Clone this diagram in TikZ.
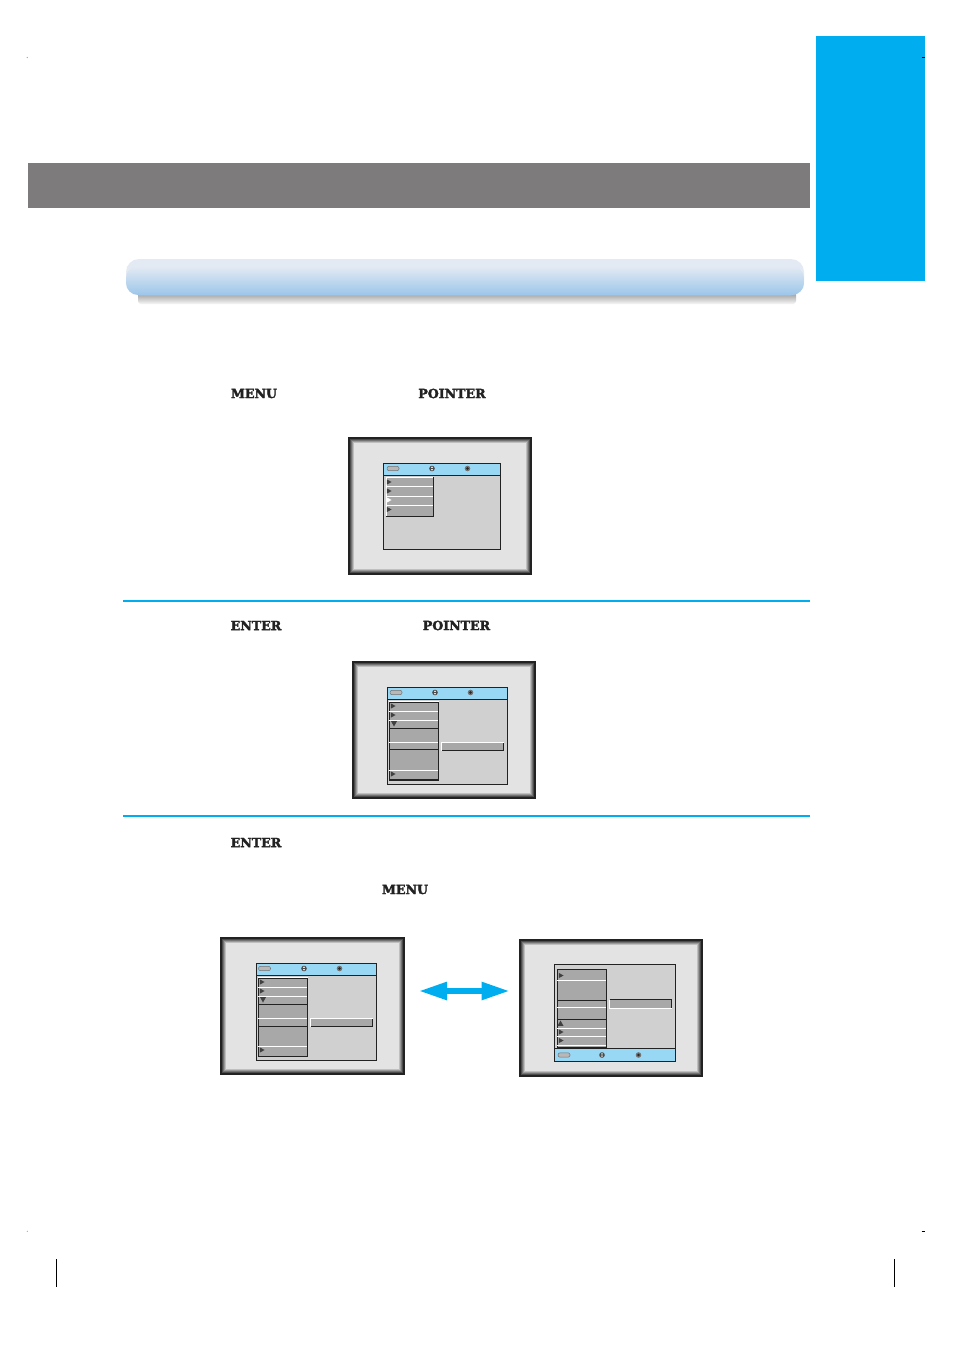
\documentclass[tikz,border=0pt]{standalone}
\usepackage{fontspec}
\newfontfamily\slabfont{DejaVu Serif Bold}[FakeBold=2.4]
\usetikzlibrary{arrows.meta}
\definecolor{cyantab}{HTML}{00AEEF}
\definecolor{bandgray}{HTML}{7D7B7C}
\definecolor{headblue}{HTML}{99D8F5}
\definecolor{panelgray}{HTML}{D0D0D0}
\definecolor{menugray}{HTML}{A8A8A8}
\definecolor{matgray}{HTML}{E3E3E3}
\definecolor{darkline}{HTML}{222222}
\definecolor{bartop}{HTML}{E4EAF4}
\definecolor{barbottom}{HTML}{9CC6E9}
\tikzset{
  keyword/.style={font=\slabfont\fontsize{12.6}{13}\selectfont, text=darkline, inner sep=0pt},
  rulecyan/.style={draw=cyantab, line width=1.4pt},
  panelbox/.style={fill=panelgray, draw=darkline, line width=1pt},
  headbox/.style={fill=headblue, draw=darkline, line width=1pt},
  menubox/.style={fill=menugray, draw=darkline, line width=1pt},
  sepwhite/.style={draw=white, line width=.9pt},
  sepdark/.style={draw=darkline, line width=.9pt},
  headicon/.style={fill=black!28, draw=black!55, line width=.5pt, rounded corners=2pt},
  cropmark/.style={draw=black, line width=1pt},
  dblarrow/.style={draw=cyantab, line width=5.6pt, {Triangle[length=28pt,width=17pt]}-{Triangle[length=28pt,width=17pt]}}
}
% frame of a screen: left, top, right, bottom
\newcommand{\screenframe}[4]{
  \fill[darkline] (#1-.7,#2-.7) rectangle (#3+.5,#4+.5);
  \foreach \d/\g in {1.2/70,2.2/55,3.2/40,4.2/25}
    \fill[black!\g!white] (#1+\d,#2+\d) rectangle (#3-\d,#4-\d);
  \fill[matgray] (#1+5.2,#2+5.2) rectangle (#3-5.2,#4-5.2);
}
% the three marks of a header bar: y, x of oval, x of dot one, x of dot two
\newcommand{\headmarks}[4]{
  \path[headicon] (#2-6,#1-2.2) rectangle (#2+6,#1+2.2);
  \fill[black!70] (#3,#1) circle (2.8);
  \fill[white] (#3-.9,#1-.7) -- (#3+.9,#1-.7) -- (#3,#1-2.2) -- cycle;
  \fill[white] (#3-.9,#1+.7) -- (#3+.9,#1+.7) -- (#3,#1+2.2) -- cycle;
  \fill[black!55] (#4,#1) circle (2.8);
  \fill[black!85] (#4,#1) circle (1.3);
}
\newcommand{\arrowright}[3][black!75]{\fill[#1] (#2-2.2,#3-2.6) -- (#2+2.6,#3) -- (#2-2.2,#3+2.6) -- cycle;}
\newcommand{\arrowdown}[2]{\fill[black!75] (#1-3,#2-2.4) -- (#1+3,#2-2.4) -- (#1,#2+3) -- cycle;}
\newcommand{\arrowup}[2]{\fill[black!75] (#1-3,#2+2.4) -- (#1+3,#2+2.4) -- (#1,#2-3) -- cycle;}
\begin{document}
\begin{tikzpicture}[x=1pt,y=-1pt]
\useasboundingbox (0,0) rectangle (954,1351);
\fill[white] (0,0) rectangle (954,1351);

% page heading
\fill[bandgray] (28,163) rectangle (810,208);
\fill[cyantab] (816,36) rectangle (925,281);
\shade[top color=black!42, middle color=black!36, bottom color=black!3, rounded corners=3pt] (138,292) rectangle (796,304);
\fill[bartop, rounded corners=13pt] (126,259) rectangle (804,295);
\shade[rounded corners=12pt, top color=bartop, bottom color=barbottom] (126,266) rectangle (804,295);

% printers marks
\draw[cropmark] (921.5,57.5) -- (925,57.5);
\draw[cropmark] (921.5,1231.5) -- (925,1231.5);
\draw[cropmark] (56.5,1259) -- (56.5,1287);
\draw[cropmark] (894.5,1259) -- (894.5,1287);
\fill[black!40] (27.3,57.5) circle (.6);
\fill[black!40] (27.3,1231.3) circle (.6);

% step one
\node[keyword] (menuA) at (254,393.5) {MENU};
\node[keyword] (pointerA) at (452,393.5) {POINTER};
\screenframe{348.5}{437.5}{531.5}{574.5}
\draw[panelbox] (383.5,463.5) rectangle (500.5,549.5);
\draw[headbox] (383.5,463.5) rectangle (500.5,475.5);
\headmarks{468.5}{393}{432}{467.5}
\draw[menubox] (386,477.5) rectangle (433.5,516.5);
\draw[sepwhite] (386,477.5) -- (433,477.5);
\draw[sepwhite] (386,477.5) -- (386,516);
\foreach \y in {486.5,496,505.5} \draw[sepwhite] (386,\y) -- (433,\y);
\arrowright{389}{482}
\arrowright{389}{491}
\arrowright[white]{389}{500}
\arrowright{389}{509.5}

\draw[rulecyan] (123,601) -- (810,601);

% step two
\node[keyword] (enterA) at (256,625.5) {ENTER};
\node[keyword] (pointerB) at (456.5,625.5) {POINTER};
\screenframe{352.5}{661.5}{535.5}{798.5}
\draw[panelbox] (387.5,687.5) rectangle (507.5,784.5);
\draw[headbox] (387.5,687.5) rectangle (507.5,699.5);
\headmarks{692.5}{396}{435}{470.5}
\draw[menubox] (389.5,702.5) rectangle (438.5,780.5);
\draw[sepwhite] (389,701.5) -- (438.5,701.5);
\foreach \y in {711.5,720.5,742.5,770.5} \draw[sepwhite] (389,\y) -- (438,\y);
\foreach \y in {728.5,749.5} \draw[sepdark] (389,\y) -- (438,\y);
\draw[darkline, line width=1.6pt] (389,780) -- (438.5,780);
\arrowright{393}{706}
\arrowright{393}{715}
\arrowdown{394}{723.5}
\arrowright{393}{774}
\fill[menugray] (441.5,742.5) rectangle (503.5,750.5);
\draw[sepwhite] (441.5,750.5) -- (441.5,742.5) -- (503.5,742.5);
\draw[sepdark] (441.5,750.5) -- (503.5,750.5) -- (503.5,742.5);

\draw[rulecyan] (123,816) -- (810,816);

% step three
\node[keyword] (enterB) at (256,842.5) {ENTER};
\node[keyword] (menuB) at (405,889.5) {MENU};
\screenframe{220.5}{937.5}{404.5}{1074.5}
\draw[panelbox] (256.5,963.5) rectangle (376.5,1060.5);
\draw[headbox] (256.5,963.5) rectangle (376.5,975.5);
\headmarks{968.5}{264.5}{304}{339.5}
\draw[menubox] (258.5,978.5) rectangle (307.5,1056.5);
\draw[sepwhite] (258,977.5) -- (307.5,977.5);
\foreach \y in {987.5,996.5,1018.5,1046.5} \draw[sepwhite] (258,\y) -- (307,\y);
\foreach \y in {1004.5,1026.5} \draw[sepdark] (258,\y) -- (307,\y);
\arrowright{262}{982}
\arrowright{262}{991}
\arrowdown{263}{999.5}
\arrowright{262}{1050}
\fill[menugray] (310.5,1018.5) rectangle (372.5,1026.5);
\draw[sepwhite] (310.5,1026.5) -- (310.5,1018.5) -- (372.5,1018.5);
\draw[sepdark] (310.5,1026.5) -- (372.5,1026.5) -- (372.5,1018.5);

% screen below
\screenframe{519.5}{939.5}{702.5}{1076.5}
\draw[panelbox] (554.5,964.5) rectangle (675.5,1061.5);
\draw[headbox] (554.5,1048.5) rectangle (675.5,1061.5);
\headmarks{1055}{564}{602}{638.5}
\draw[menubox] (557.5,969) rectangle (606.5,1047.5);
\foreach \y in {980.5,1007.5,1028.5,1036.5,1045.5} \draw[sepwhite] (557,\y) -- (606,\y);
\foreach \y in {1000.5,1019.5} \draw[sepdark] (557,\y) -- (606,\y);
\arrowright{561}{975.5}
\arrowup{560.5}{1023.5}
\arrowright{561}{1032}
\arrowright{561}{1040.5}
\fill[menugray] (609.5,999.5) rectangle (671.5,1008.5);
\draw[sepdark] (609.5,999.5) -- (671.5,999.5) -- (671.5,1008.5);
\draw[sepwhite] (609.5,999.5) -- (609.5,1008.5) -- (671.5,1008.5);

% arrow between the two screens
\coordinate (arrowL) at (419,991);
\coordinate (arrowR) at (509.5,991);
\draw[dblarrow] (arrowL) -- (arrowR);
\end{tikzpicture}
\end{document}
